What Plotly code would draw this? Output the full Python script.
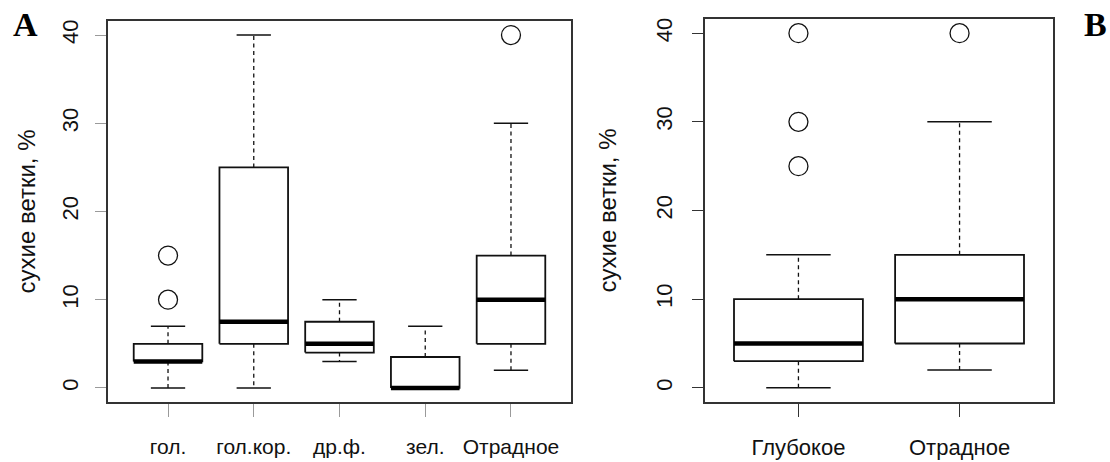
import plotly.graph_objects as go

# ---- data ----
cats_a = ["гол.", "гол.кор.", "др.ф.", "зел.", "Отрадное"]
low_a = [0, 0, 3, 0, 2]
q1_a = [3, 5, 4, 0, 5]
med_a = [3, 7.5, 5, 0, 10]
q3_a = [5, 25, 7.5, 3.5, 15]
high_a = [7, 40, 10, 7, 30]
out_a = [[10, 15], [], [], [], [40]]

cats_b = ["Глубокое", "Отрадное"]
low_b = [0, 2]
q1_b = [3, 5]
med_b = [5, 10]
q3_b = [10, 15]
high_b = [15, 30]
out_b = [[25, 30, 40], [40]]

y_ticks = [0, 10, 20, 30, 40]
y_title = "сухие ветки, %"

FONT = "Liberation Sans, Arial, sans-serif"
LINE = "#111111"
HALF = 0.4     # half box width
STAP = 0.2     # half staple width

fig = go.Figure()


def add_boxes(cats, low, q1, med, q3, high, outs, xa, ya):
    pos = list(range(1, len(cats) + 1))
    bx, by, mx, my, wx, wy, sx, sy, ox, oy = ([] for _ in range(10))
    for p, lo, a, m, b, hi, o in zip(pos, low, q1, med, q3, high, outs):
        bx += [p - HALF, p + HALF, p + HALF, p - HALF, p - HALF, None]
        by += [a, a, b, b, a, None]
        mx += [p - HALF, p + HALF, None]
        my += [m, m, None]
        wx += [p, p, None, p, p, None]
        wy += [b, hi, None, a, lo, None]
        sx += [p - STAP, p + STAP, None, p - STAP, p + STAP, None]
        sy += [hi, hi, None, lo, lo, None]
        for v in o:
            ox.append(p)
            oy.append(v)
    common = dict(xaxis=xa, yaxis=ya, showlegend=False, hoverinfo="skip")
    fig.add_trace(go.Scatter(x=wx, y=wy, mode="lines",
                             line=dict(color=LINE, width=1.3, dash="4px,3.5px"), **common))
    fig.add_trace(go.Scatter(x=sx, y=sy, mode="lines",
                             line=dict(color=LINE, width=1.5), **common))
    fig.add_trace(go.Scatter(x=bx, y=by, mode="lines",
                             line=dict(color=LINE, width=1.8), **common))
    fig.add_trace(go.Scatter(x=mx, y=my, mode="lines",
                             line=dict(color="#000000", width=4.5), **common))
    fig.add_trace(go.Scatter(x=ox, y=oy, mode="markers",
                             marker=dict(symbol="circle-open", size=19,
                                         color=LINE, line=dict(width=1.3)), **common))
    return pos


pos_a = add_boxes(cats_a, low_a, q1_a, med_a, q3_a, high_a, out_a, "x", "y")
pos_b = add_boxes(cats_b, low_b, q1_b, med_b, q3_b, high_b, out_b, "x2", "y2")

W, H = 1110, 462


def xax(dom, rng, pos, cats, tickcolor, size):
    return dict(domain=[dom[0] / W, dom[1] / W], range=rng, tickvals=pos, ticktext=cats,
                ticks="outside", ticklen=13, tickwidth=1.2, tickcolor=tickcolor,
                showline=True, mirror=True, linecolor="#333333", linewidth=1.5,
                showgrid=False, zeroline=False, ticklabelstandoff=12,
                tickfont=dict(family=FONT, size=size, color="#111111"))


def yax(dom, anchor, tickcolor, lstand, standoff, size):
    return dict(domain=[(H - dom[1]) / H, (H - dom[0]) / H], range=[-1.6, 41.6],
                tickvals=y_ticks, ticks="outside", ticklen=11, tickwidth=1.2,
                tickcolor=tickcolor, tickangle=-90, anchor=anchor,
                showline=True, mirror=True, linecolor="#333333", linewidth=1.5,
                showgrid=False, zeroline=False, ticklabelstandoff=lstand,
                tickfont=dict(family=FONT, size=size, color="#111111"),
                title=dict(text=y_title, standoff=standoff,
                           font=dict(family=FONT, size=24, color="#111111")))


fig.update_layout(
    width=W, height=H,
    margin=dict(l=0, r=0, t=0, b=0),
    paper_bgcolor="white", plot_bgcolor="white",
    xaxis=dict(xax((108, 571), [0.3, 5.7], pos_a, cats_a, "#9a9a9a", 21), anchor="y"),
    yaxis=yax((21, 402), "x", "#9a9a9a", 8, 16, 22),
    xaxis2=dict(xax((705, 1053), [0.42, 2.58], pos_b, cats_b, "#333333", 22), anchor="y2"),
    yaxis2=yax((19, 402), "x2", "#333333", 11, 29, 22),
    annotations=[
        dict(text="<b>A</b>", xref="paper", yref="paper", x=25 / W, y=1 - 24 / H,
             xanchor="center", yanchor="middle", showarrow=False,
             font=dict(family="Liberation Serif, Times New Roman, serif", size=34, color="#000")),
        dict(text="<b>B</b>", xref="paper", yref="paper", x=1095 / W, y=1 - 24 / H,
             xanchor="center", yanchor="middle", showarrow=False,
             font=dict(family="Liberation Serif, Times New Roman, serif", size=34, color="#000")),
    ],
)

fig.write_html("out.html")
